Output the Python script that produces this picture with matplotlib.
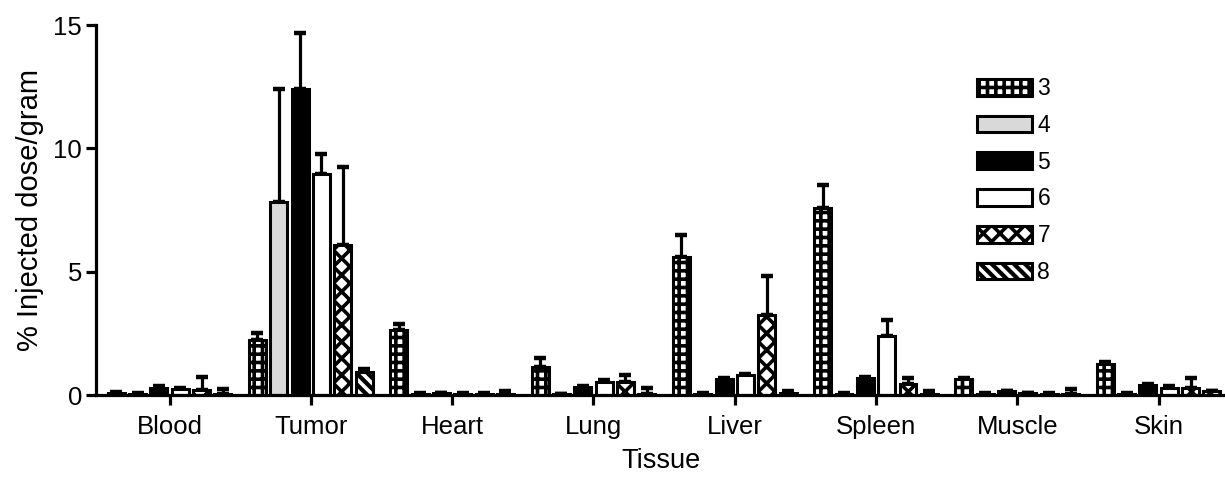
import matplotlib
matplotlib.use("Agg")
import matplotlib.pyplot as plt
import numpy as np

plt.rcParams['font.family'] = ['Liberation Sans', 'DejaVu Sans']
plt.rcParams['hatch.linewidth'] = 2.6

tissues = ["Blood", "Tumor", "Heart", "Lung", "Liver", "Spleen", "Muscle", "Skin"]
series = ["3", "4", "5", "6", "7", "8"]

mean3 = [0.10, 2.23, 2.63, 1.15, 5.60, 7.58, 0.65, 1.25]
err3 = [0.02, 0.27, 0.25, 0.35, 0.90, 0.93, 0.05, 0.08]
mean4 = [0.05, 7.84, 0.05, 0.03, 0.05, 0.05, 0.05, 0.05]
err4 = [0.02, 4.56, 0.02, 0.02, 0.02, 0.02, 0.02, 0.02]
mean5 = [0.30, 12.40, 0.08, 0.33, 0.65, 0.70, 0.15, 0.40]
err5 = [0.05, 2.30, 0.02, 0.05, 0.05, 0.05, 0.03, 0.05]
mean6 = [0.25, 8.96, 0.05, 0.55, 0.82, 2.40, 0.08, 0.30]
err6 = [0.05, 0.80, 0.02, 0.05, 0.05, 0.65, 0.02, 0.05]
mean7 = [0.22, 6.10, 0.05, 0.55, 3.25, 0.45, 0.05, 0.30]
err7 = [0.50, 3.15, 0.02, 0.28, 1.58, 0.25, 0.02, 0.40]
mean8 = [0.05, 0.95, 0.05, 0.05, 0.08, 0.05, 0.03, 0.15]
err8 = [0.20, 0.12, 0.10, 0.25, 0.10, 0.10, 0.22, 0.03]

means = [mean3, mean4, mean5, mean6, mean7, mean8]
errs = [err3, err4, err5, err6, err7, err8]
# (facecolor, hatch, hatchcolor)
styles = [
    ("white", "++", "black"),
    ("#d9d9d9", None, "black"),
    ("black", None, "black"),
    ("white", None, "black"),
    ("white", "xx", "black"),
    ("black", "\\\\\\", "white"),
]

fig = plt.figure(figsize=(12.25, 4.83), dpi=100)
ax = fig.add_axes([0.0784, 0.182, 0.9216, 0.766])

x = np.arange(len(tissues))
pitch = 0.151
width = 0.12
handles = []
for i, (m, e, (fc, hatch, hc)) in enumerate(zip(means, errs, styles)):
    pos = x + (i - 2.5) * pitch
    b1 = ax.bar(pos, m, width, color=fc, hatch=hatch, edgecolor=hc, linewidth=0, zorder=2)
    b2 = ax.bar(pos, m, width, fill=False, edgecolor="black", linewidth=2.2, zorder=3)
    ax.errorbar(pos, m, yerr=[np.zeros(len(m)), e], fmt="none", ecolor="black",
                elinewidth=2.3, capsize=4, capthick=3.2, zorder=1)
    handles.append((b1, b2))

ax.set_xlim(-0.52, 7.47)
ax.set_ylim(0, 15)
ax.set_yticks([0, 5, 10, 15])
ax.set_xticks(x)
ax.set_xticklabels(tissues)
for s in ["top", "right"]:
    ax.spines[s].set_visible(False)
for s in ["left", "bottom"]:
    ax.spines[s].set_linewidth(2.3)
ax.tick_params(axis="both", width=2.3, length=7, labelsize=18.5, colors="black")
ax.tick_params(axis="x", pad=7)
ax.tick_params(axis="y", pad=3)
ax.set_xlabel("Tissue", fontsize=19.5, labelpad=7)
ax.set_ylabel("% Injected dose/gram", fontsize=21, labelpad=7)

leg = fig.legend(handles, series, loc="upper left", bbox_to_anchor=(0.788, 0.864),
                 frameon=False, fontsize=16.5, handlelength=2.4, handleheight=0.75,
                 labelspacing=0.6, handletextpad=0.25, borderpad=0)

fig.savefig("out.png", dpi=100)
